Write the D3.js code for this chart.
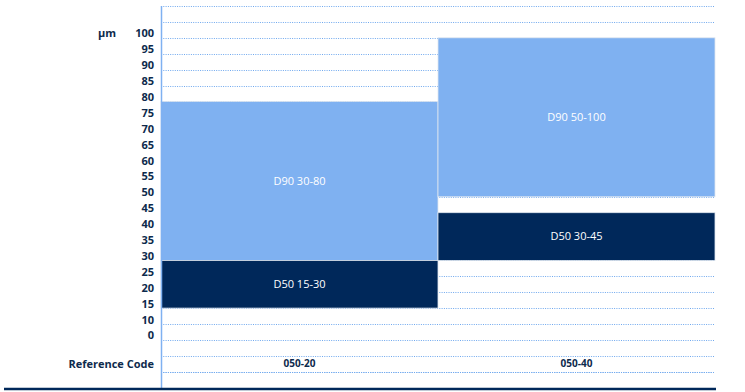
<!DOCTYPE html>
<meta charset="utf-8">
<script src="https://d3js.org/d3.v7.js"></script>
<style>
  body { margin: 0; background: #fff; }
  text { font-family: "Open Sans", "Noto Sans", sans-serif; }
</style>
<div id="my_dataviz"></div>
<script>

// size ticks shown on the left, top to bottom
var ticks = ["100", "95", "90", "85", "80", "75", "70", "65", "60", "55", "50",
             "45", "40", "35", "30", "25", "20", "15", "10", "0"];
var codes = ["050-20", "050-40"];
var unit = "µm";
var codeTitle = "Reference Code";

// ranges per reference code
var d90 = [ {code: "050-20", from: 30, to: 80, label: "D90 30-80"},
            {code: "050-40", from: 50, to: 100, label: "D90 50-100"} ];
var d50 = [ {code: "050-20", from: 15, to: 30, label: "D50 15-30"},
            {code: "050-40", from: 30, to: 45, label: "D50 30-45"} ];

var width = 745, height = 392;
var lightBlue = "#7fb1f1", navy = "#00285a", textCol = "#0d2a4c", gridCol = "#6fa8ee";

// rows of the "table": blank, ticks..., blank, reference code row, blank
var rows = ["pad_top"].concat(ticks).concat(["pad_mid", "ref", "pad_bot"]);

var y = d3.scaleBand()
    .domain(rows)
    .range([6, 6 + 15.9 * rows.length])
    .padding(0);

// bottom edge of the row for a value
function yv(v) { return y(String(v)) + y.bandwidth(); }

var x = d3.scaleBand()
    .domain(codes)
    .range([161, 715])
    .padding(0);

var svg = d3.select("#my_dataviz").append("svg")
    .attr("width", width)
    .attr("height", height);

// dotted grid lines at every row boundary
var lineYs = d3.range(rows.length).map(function(i) { return y(rows[i]); });
lineYs.push(y("ref") + y.bandwidth());
svg.selectAll("grid")
  .data(lineYs)
  .enter()
  .append("line")
    .attr("x1", 161)
    .attr("x2", 715)
    .attr("y1", function(d) { return Math.round(d) + 0.5; })
    .attr("y2", function(d) { return Math.round(d) + 0.5; })
    .attr("stroke", gridCol)
    .attr("stroke-width", 1)
    .attr("stroke-dasharray", "1,1.3");

function bars(data, colour) {
  svg.selectAll(null)
    .data(data)
    .enter()
    .append("rect")
      .attr("x", function(d) { return x(d.code); })
      .attr("y", function(d) { return yv(d.to); })
      .attr("width", x.bandwidth())
      .attr("height", function(d) { return yv(d.from) - yv(d.to); })
      .attr("fill", colour)
      .attr("stroke", "#dfe6ef")
      .attr("stroke-width", 0.8);

  svg.selectAll(null)
    .data(data)
    .enter()
    .append("text")
      .attr("x", function(d) { return x(d.code) + x.bandwidth() / 2; })
      .attr("y", function(d) { return (yv(d.to) + yv(d.from)) / 2; })
      .attr("dy", ".35em")
      .attr("text-anchor", "middle")
      .attr("fill", "#fff")
      .style("font-size", "11px")
      .text(function(d) { return d.label; });
}
bars(d90, lightBlue);
bars(d50, navy);

// vertical axis line
svg.append("line")
    .attr("x1", 161.5).attr("x2", 161.5)
    .attr("y1", 6).attr("y2", 388)
    .attr("stroke", lightBlue)
    .attr("stroke-width", 1.5);

// tick labels
svg.selectAll("ticklabel")
  .data(ticks)
  .enter()
  .append("text")
    .attr("x", 154)
    .attr("y", function(d) { return yv(d) - 0.5; })
    .attr("text-anchor", "end")
    .attr("fill", textCol)
    .style("font-size", "11px")
    .style("font-weight", "bold")
    .text(function(d) { return d; });

svg.append("text")
    .attr("x", 98)
    .attr("y", yv("100") - 1)
    .attr("fill", textCol)
    .style("font-size", "11px")
    .style("font-weight", "bold")
    .text(unit);

svg.append("text")
    .attr("x", 154)
    .attr("y", y("ref") + y.bandwidth() / 2)
    .attr("dy", ".35em")
    .attr("text-anchor", "end")
    .attr("fill", textCol)
    .style("font-size", "11px")
    .style("font-weight", "bold")
    .text(codeTitle);

svg.selectAll("codelabel")
  .data(codes)
  .enter()
  .append("text")
    .attr("x", function(d) { return x(d) + x.bandwidth() / 2; })
    .attr("y", y("ref") + y.bandwidth() / 2)
    .attr("dy", ".35em")
    .attr("text-anchor", "middle")
    .attr("fill", textCol)
    .style("font-size", "10px")
    .style("font-weight", "bold")
    .text(function(d) { return d; });

// thick bottom rule
svg.append("line")
    .attr("x1", 4).attr("x2", 716)
    .attr("y1", 389).attr("y2", 389)
    .attr("stroke", navy)
    .attr("stroke-width", 2.5);

</script>
